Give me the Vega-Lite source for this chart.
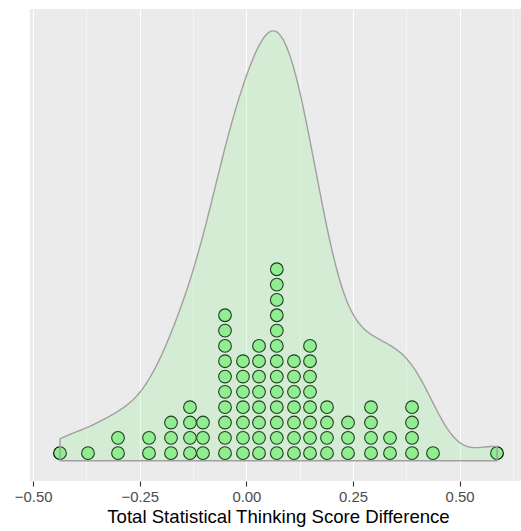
{
  "$schema": "https://vega.github.io/schema/vega-lite/v6.json",
  "width": 491,
  "height": 472,
  "autosize": {"type": "none"},
  "padding": {"left": 30, "top": 9, "right": 0, "bottom": 50},
  "background": "#FFFFFF",
  "config": {"view": {"fill": "#EBEBEB", "stroke": null}, "font": "Liberation Sans"},
  "data": {
    "values": [
      {"x": -0.4372},
      {"x": -0.3715},
      {"x": -0.3011}, {"x": -0.3011},
      {"x": -0.2284}, {"x": -0.2284},
      {"x": -0.1768}, {"x": -0.1768}, {"x": -0.1768},
      {"x": -0.1323}, {"x": -0.1323}, {"x": -0.1323}, {"x": -0.1323},
      {"x": -0.1018}, {"x": -0.1018}, {"x": -0.1018},
      {"x": -0.0502}, {"x": -0.0502}, {"x": -0.0502}, {"x": -0.0502}, {"x": -0.0502},
      {"x": -0.0502}, {"x": -0.0502}, {"x": -0.0502}, {"x": -0.0502}, {"x": -0.0502},
      {"x": -0.008}, {"x": -0.008}, {"x": -0.008}, {"x": -0.008}, {"x": -0.008}, {"x": -0.008}, {"x": -0.008},
      {"x": 0.0296}, {"x": 0.0296}, {"x": 0.0296}, {"x": 0.0296}, {"x": 0.0296}, {"x": 0.0296}, {"x": 0.0296}, {"x": 0.0296},
      {"x": 0.0713}, {"x": 0.0713}, {"x": 0.0713}, {"x": 0.0713}, {"x": 0.0713}, {"x": 0.0713}, {"x": 0.0713},
      {"x": 0.0713}, {"x": 0.0713}, {"x": 0.0713}, {"x": 0.0713}, {"x": 0.0713}, {"x": 0.0713},
      {"x": 0.1116}, {"x": 0.1116}, {"x": 0.1116}, {"x": 0.1116}, {"x": 0.1116}, {"x": 0.1116}, {"x": 0.1116},
      {"x": 0.1492}, {"x": 0.1492}, {"x": 0.1492}, {"x": 0.1492}, {"x": 0.1492}, {"x": 0.1492}, {"x": 0.1492}, {"x": 0.1492},
      {"x": 0.189}, {"x": 0.189}, {"x": 0.189}, {"x": 0.189},
      {"x": 0.2383}, {"x": 0.2383}, {"x": 0.2383},
      {"x": 0.2922}, {"x": 0.2922}, {"x": 0.2922}, {"x": 0.2922},
      {"x": 0.3368}, {"x": 0.3368},
      {"x": 0.3884}, {"x": 0.3884}, {"x": 0.3884}, {"x": 0.3884},
      {"x": 0.4376},
      {"x": 0.5877}
    ]
  },
  "layer": [
    {
      "transform": [{"window": [{"op": "row_number", "as": "k"}], "groupby": ["x"]}],
      "mark": {"type": "point", "shape": "circle", "filled": true, "fill": "#90EE90", "stroke": "#000000", "strokeWidth": 1.1, "size": 162, "opacity": 1, "fillOpacity": 1, "strokeOpacity": 1},
      "encoding": {
        "x": {
          "field": "x", "type": "quantitative",
          "scale": {"domain": [-0.5075, 0.644], "nice": false, "zero": false},
          "axis": {
            "values": [-0.5, -0.25, 0, 0.25, 0.5], "format": ".2f",
            "title": "Total Statistical Thinking Score Difference",
            "grid": true, "gridColor": "#FFFFFF", "gridWidth": 1.1,
            "domain": false, "ticks": true, "tickColor": "#333333", "tickWidth": 1.1, "tickSize": 5,
            "labelColor": "#4D4D4D", "labelFontSize": 14.9, "labelFont": "Liberation Sans", "labelPadding": 3.5,
            "labelFlush": false, "labelOverlap": false,
            "titleFont": "Liberation Sans", "titleFontSize": 18.6, "titleColor": "#000000", "titleFontWeight": "normal",
            "titlePadding": 3, "titleX": 248
          }
        },
        "y": {
          "field": "k", "type": "quantitative",
          "scale": {"domain": [-0.815, 29.98], "nice": false, "zero": false},
          "axis": null
        }
      }
    },
    {
      "transform": [{"density": "x", "bandwidth": 0.0546, "extent": [-0.4372, 0.5877], "steps": 300}],
      "mark": {"type": "area", "fill": "#90EE90", "fillOpacity": 0.25, "stroke": "#A0A0A0", "strokeWidth": 1.4},
      "encoding": {
        "x": {
          "field": "value", "type": "quantitative",
          "axis": {
            "values": [-0.375, -0.125, 0.125, 0.375, 0.625],
            "grid": true, "gridColor": "#FFFFFF", "gridWidth": 0.55,
            "ticks": false, "labels": false, "domain": false, "title": null
          }
        },
        "y": {
          "field": "density", "type": "quantitative",
          "scale": {"domain": [-0.1216, 2.705], "nice": false, "zero": true},
          "axis": null
        }
      }
    }
  ],
  "resolve": {"scale": {"y": "independent"}, "axis": {"x": "independent"}}
}
